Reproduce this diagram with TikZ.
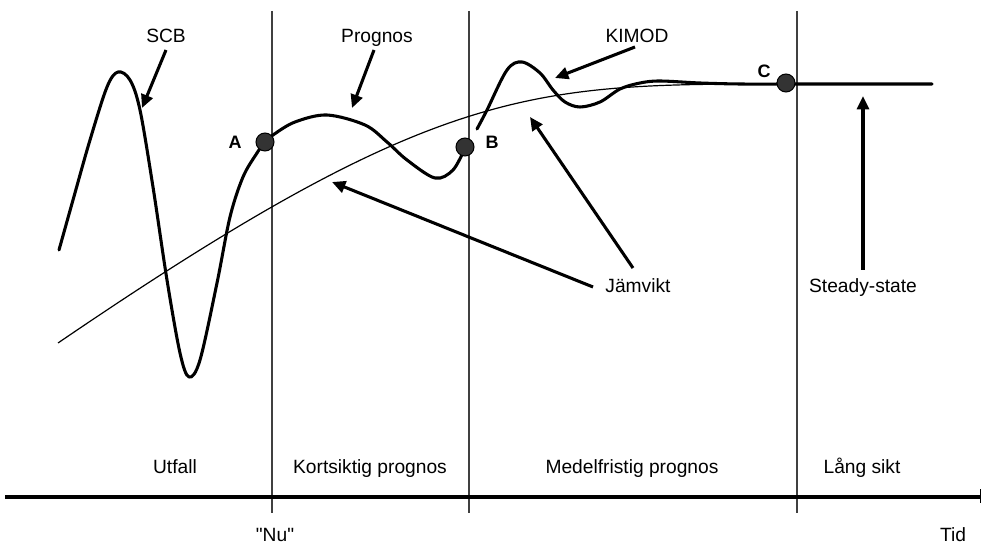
\documentclass[tikz,border=0pt]{standalone}
\usepackage{fontspec}
\setmainfont{Liberation Sans}
\newfontfamily\rawfont{Liberation Sans}
\usetikzlibrary{arrows.meta}
\begin{document}
\begin{tikzpicture}[x=0.75pt,y=-0.75pt,
  lbl/.style={anchor=base, inner sep=0pt, font=\fontsize{14.4}{17}\selectfont},
  ptlbl/.style={anchor=base, inner sep=0pt, font=\fontsize{13.5}{16}\selectfont\bfseries},
  dot/.style={circle, draw=black, fill=black!80, line width=0.75pt, minimum size=13.5pt, inner sep=0pt},
  sep/.style={draw=black!75, line width=0.9pt},
  thickcurve/.style={line width=2.3pt, line cap=round, line join=round},
  thincurve/.style={line width=0.9pt},
  pointer/.style={line width=2.3pt, -{Triangle[length=10pt, width=9pt]}},
]
\useasboundingbox (0,0) rectangle (982,545);

% period separators
\draw[sep] (272,11) -- (272,513);
\draw[sep] (469,11) -- (469,513);
\draw[sep] (797,11) -- (797,513);

% time axis
\draw[line width=2.5pt] (5,497) -- (980,497);
\draw[line width=1pt] (980.5,489) -- (980.5,503);

% equilibrium (thin) curve
\draw[thincurve] (58,343) .. controls (435,86) and (530,84) .. (780,84);

% SCB + Prognos thick curve
\draw[thickcurve] plot[smooth, tension=0.55] coordinates {
  (59,250) (73,200) (90,140) (107,87) (118,72) (130,80) (140,110) (153,187)
  (167,280) (180,353) (189,377) (200,360) (217,283) (230,217) (243,177)
  (257,153) (265,142) (273,135) (295,122) (327,115) (365,125) (387,142)
  (407,160) (435,178) (453,170) (465,148)};

% KIMOD thick curve
\draw[thickcurve] plot[smooth, tension=0.55] coordinates {
  (477,129) (487,110) (507,70) (522,62) (540,73) (553,90) (565,102) (580,107)
  (600,102) (620,89) (640,83) (660,81) (700,83) (740,84) (786,84)}
  -- (932,84);

% points
\node[dot] (A) at (265,142) {};
\node[dot] (B) at (465,147) {};
\node[dot] (C) at (786,83) {};
\node[ptlbl] (Alab) at (235,149) {A};
\node[ptlbl] (Blab) at (492,149) {B};
\node[ptlbl] (Clab) at (764,78) {C};

% labels
\node[lbl] (scb) at (166,43) {SCB};
\node[lbl] (prog) at (377,43) {Prognos};
\node[lbl] (kimod) at (637,43) {KIMOD};
\node[lbl] (jam) at (638,293) {Jämvikt};
\node[lbl] (ss) at (863,293) {Steady-state};
\node[lbl] (utf) at (175,473) {Utfall};
\node[lbl] (kort) at (370,473) {Kortsiktig prognos};
\node[lbl] (medel) at (632,473) {Medelfristig prognos};
\node[lbl] (lang) at (862,473) {Lång sikt};
\node[lbl] (nu) at (275,541) {\rawfont "Nu"};
\node[lbl] (tid) at (953,541) {Tid};

% arrows
\coordinate (scbT) at (166,50);   \coordinate (scbH) at (142,108);
\coordinate (progT) at (374,50);  \coordinate (progH) at (352,108);
\coordinate (kimT) at (635,47);   \coordinate (kimH) at (555,78);
\coordinate (jamT1) at (593,287); \coordinate (jamH1) at (332,182);
\coordinate (jamT2) at (633,268); \coordinate (jamH2) at (530,117);
\coordinate (ssT) at (863,270);   \coordinate (ssH) at (863,96);
\draw[pointer] (scbT) -- (scbH);
\draw[pointer] (progT) -- (progH);
\draw[pointer] (kimT) -- (kimH);
\draw[pointer] (jamT1) -- (jamH1);
\draw[pointer] (jamT2) -- (jamH2);
\draw[pointer] (ssT) -- (ssH);
\end{tikzpicture}
\end{document}
